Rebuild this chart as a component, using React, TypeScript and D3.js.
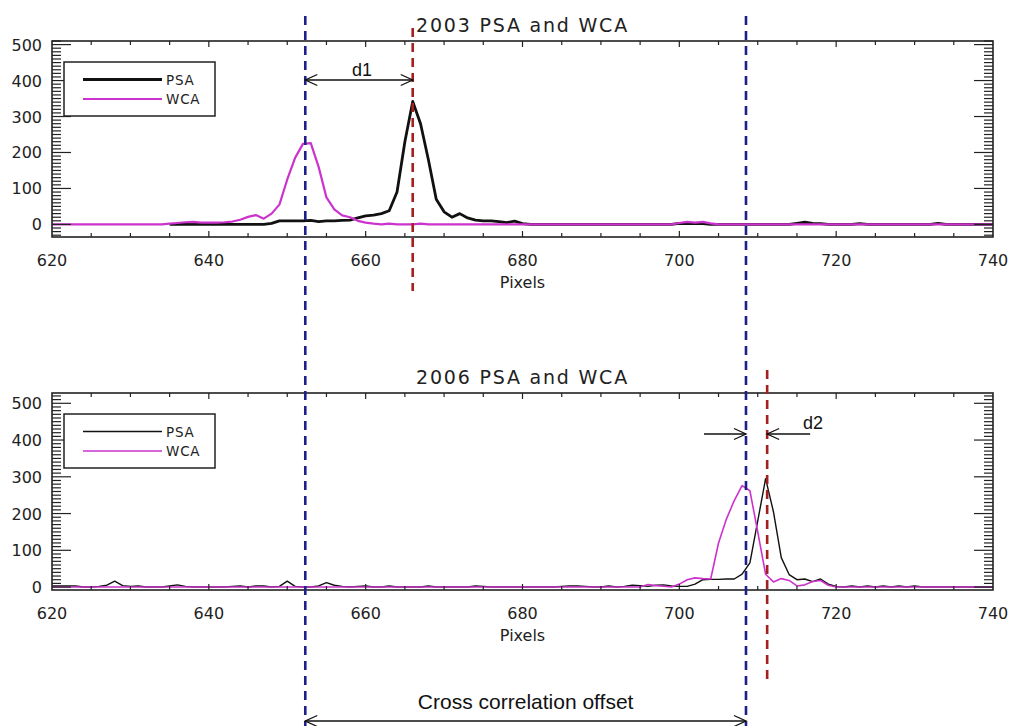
import React from "react";
import * as d3 from "d3";

// ---------- data ----------
const xTickLabels = [620, 640, 660, 680, 700, 720, 740];
const yTickLabels = [0, 100, 200, 300, 400, 500];

// 2003 panel
const psa2003Pixels = d3.range(635, 741);
const psa2003Counts = [
  0, 0, 0, 0, 0, 0, 0, 0, 0, 0, 0, 0, 0, // 635-647
  3, 10, 10, 10, 10, 11, 8, 10, 10, 11, 12, 18, 24, 26, 30, 38, 90, 230, 342, 280, 180, 70, 35, 20, 30, 18, 12, 10, 10, 8, 5, 9, 2, // 648-680
  0, 0, 0, 0, 0, 0, 0, 0, 0, 0, 0, 0, 0, 0, 0, 0, 0, 0, 0, // 681-699
  3, 2, 3, 2, 0, 0, 0, 0, 0, 0, 0, 0, 0, 0, 0, // 700-714
  3, 6, 3, 2, 0, 0, 0, 0, 2, 0, 0, 0, 0, 0, 0, 0, 0, 0, 3, 0, 0, 0, 0, 0, 0, 0, // 715-740
];
const wca2003Pixels = d3.range(620, 741);
const wca2003Counts = [
  0, 0, 0, 0, 0, 0, 0, 0, 0, 0, 0, 0, 0, 0, 0, // 620-634
  2, 4, 6, 7, 5, 5, 5, 6, 8, 13, 21, 26, 16, 30, 55, 125, 185, 224, 226, 160, 75, 42, 25, 20, 10, 5, 2, 0, 2, 0, 0, 0, 2, 0, // 635-668
  0, 0, 0, 0, 0, 0, 0, 0, 0, 0, 0, 0, 0, 0, 0, 0, 0, 0, 0, 0, 0, 0, 0, 0, 0, 0, 0, 0, 0, 0, 0, // 669-699
  4, 7, 5, 7, 3, // 700-704
  0, 0, 0, 0, 0, 0, 0, 0, 0, 0, 0, 0, 0, 0, 0, 0, 0, 0, 0, 0, 0, 0, 0, 0, 0, 0, 0, 0, 0, 0, 0, 0, 0, 0, 0, 0, // 705-740
];

// 2006 panel
const psa2006Pixels = d3.range(620, 741);
const psa2006Counts = [
  3, 3, 3, 3, 0, 0, 2, 5, 16, 4, 2, 3, 0, 0, 0, 3, 6, 2, 0, 0, // 620-639
  0, 0, 0, 2, 3, 0, 3, 3, 0, 2, 16, 2, 0, 0, 3, 12, 5, 2, 0, 2, // 640-659
  3, 0, 0, 3, 0, 0, 0, 0, 3, 0, 0, 0, 0, 0, 3, 2, 0, 0, 0, 0, // 660-679
  0, 0, 0, 0, 0, 2, 3, 3, 2, 0, 0, 3, 0, 2, 5, 4, 2, 5, 6, 3, // 680-699
  2, 2, 8, 20, 21, 21, 22, 22, 35, 66, 180, 295, 205, 80, 34, 20, 22, 15, 22, 8, // 700-719
  2, 0, 3, 0, 3, 0, 3, 0, 3, 0, 3, 0, 0, 0, 0, 0, 0, 0, 0, 0, 0, // 720-740
];
const wca2006Pixels = d3.range(620, 741);
const wca2006Counts = [
  0, 0, 0, 0, 0, 0, 0, 0, 0, 0, 0, 0, 0, 0, 0, 0, 0, 0, 0, 0, // 620-639
  0, 0, 0, 0, 0, 0, 0, 0, 0, 0, 0, 0, 0, 0, 0, 0, 0, 0, 0, 0, // 640-659
  0, 0, 0, 0, 0, 0, 0, 0, 0, 0, 0, 0, 0, 0, 0, 0, 0, 0, 0, 0, // 660-679
  0, 0, 0, 0, 0, 0, 0, 0, 0, 0, 0, 0, 0, 0, 0, 0, 7, 4, 2, 0, // 680-699
  8, 20, 25, 23, 22, 120, 185, 235, 276, 262, 150, 35, 14, 23, 18, 3, 6, 15, 18, 5, // 700-719
  0, 0, 0, 0, 0, 0, 0, 0, 0, 0, 0, 0, 0, 0, 0, 0, 0, 0, 0, 0, 0, // 720-740
];

// annotation positions (in pixel units of the x axis)
const blueLines = [652.3, 708.5];
const redTop = 666.0;
const redBottom = 711.2;

const seriesNames = ["PSA", "WCA"];

// ---------- layout ----------
const W = 1011;
const H = 726;
const LEFT = 52;
const RIGHT = 993;
const BLACK = "#111";
const MAGENTA = "#cc33cc";
const BLUE = "#1f1f8a";
const RED = "#a32020";
const TICK_FONT = "'DejaVu Sans', sans-serif";
const ANNO_FONT = "'Liberation Sans', Arial, sans-serif";

const x = d3.scaleLinear().domain([620, 740]).range([LEFT, RIGHT]);

type PanelProps = {
  top: number;
  bottom: number;
  yDomain: [number, number];
  title: string;
  psaX: number[];
  psaY: number[];
  wcaX: number[];
  wcaY: number[];
  psaWidth: number;
  wcaWidth: number;
};

function Panel(p: PanelProps) {
  const y = d3.scaleLinear().domain(p.yDomain).range([p.bottom, p.top]);
  const line = d3
    .line<[number, number]>()
    .x((d) => x(d[0]))
    .y((d) => y(d[1]));
  const psa = p.psaX.map((v, i) => [v, p.psaY[i]] as [number, number]);
  const wca = p.wcaX.map((v, i) => [v, p.wcaY[i]] as [number, number]);
  const minorY = d3.range(Math.ceil(p.yDomain[0] / 10) * 10, p.yDomain[1] + 0.1, 10);
  const minorX = d3.range(625, 740, 5);
  const cx = (LEFT + RIGHT) / 2;
  return (
    <g>
      <defs>
        <clipPath id={"clip" + p.top}>
          <rect x={LEFT} y={p.top} width={RIGHT - LEFT} height={p.bottom - p.top} />
        </clipPath>
      </defs>
      <text x={cx} y={p.top - 9} textAnchor="middle" fontFamily={TICK_FONT} fontSize={19} letterSpacing={1.8} fill="#222">
        {p.title}
      </text>
      {/* data */}
      <g clipPath={`url(#clip${p.top})`}>
        <path d={line(psa) || ""} fill="none" stroke={BLACK} strokeWidth={p.psaWidth} strokeLinejoin="round" />
        <path d={line(wca) || ""} fill="none" stroke={MAGENTA} strokeWidth={p.wcaWidth} strokeLinejoin="round" />
      </g>
      {/* frame */}
      <rect x={LEFT} y={p.top} width={RIGHT - LEFT} height={p.bottom - p.top} fill="none" stroke="#222" strokeWidth={1.6} />
      {/* y ticks */}
      {minorY.map((v) => {
        const major = v % 100 === 0 && v >= 0;
        const len = major ? 19 : 9;
        return (
          <g key={"y" + v}>
            <line x1={LEFT} x2={LEFT + len} y1={y(v)} y2={y(v)} stroke="#222" strokeWidth={1.2} />
            <line x1={RIGHT} x2={RIGHT - len} y1={y(v)} y2={y(v)} stroke="#222" strokeWidth={1.2} />
          </g>
        );
      })}
      {yTickLabels.map((v) => (
        <text key={"yl" + v} x={42} y={y(v) + 6} textAnchor="end" fontFamily={TICK_FONT} fontSize={16} fill="#222">
          {v}
        </text>
      ))}
      {/* x ticks */}
      {minorX.map((v) => {
        const len = v % 20 === 0 ? 6 : 4;
        return (
          <g key={"x" + v}>
            <line x1={x(v)} x2={x(v)} y1={p.bottom} y2={p.bottom - len} stroke="#222" strokeWidth={1.2} />
            <line x1={x(v)} x2={x(v)} y1={p.top} y2={p.top + len} stroke="#222" strokeWidth={1.2} />
          </g>
        );
      })}
      {xTickLabels.map((v) => (
        <text key={"xl" + v} x={x(v)} y={p.bottom + 29} textAnchor="middle" fontFamily={TICK_FONT} fontSize={16} fill="#222">
          {v}
        </text>
      ))}
      <text x={cx} y={p.bottom + 51} textAnchor="middle" fontFamily={TICK_FONT} fontSize={16} fill="#222">
        Pixels
      </text>
      {/* legend */}
      <rect x={64} y={p.top + 21} width={151} height={54} fill="white" stroke="#222" strokeWidth={1.5} />
      <line x1={83} x2={162} y1={p.top + 38.5} y2={p.top + 38.5} stroke={BLACK} strokeWidth={p.psaWidth} />
      <line x1={83} x2={162} y1={p.top + 58} y2={p.top + 58} stroke={MAGENTA} strokeWidth={p.wcaWidth} />
      <text x={166} y={p.top + 43.5} fontFamily={TICK_FONT} fontSize={13.5} letterSpacing={0.8} fill="#222">
        {seriesNames[0]}
      </text>
      <text x={166} y={p.top + 63} fontFamily={TICK_FONT} fontSize={13.5} letterSpacing={0.8} fill="#222">
        {seriesNames[1]}
      </text>
    </g>
  );
}

function headRight(px: number, py: number) {
  return `M${px - 12},${py - 5.5}L${px},${py}L${px - 12},${py + 5.5}`;
}
function headLeft(px: number, py: number) {
  return `M${px + 12},${py - 5.5}L${px},${py}L${px + 12},${py + 5.5}`;
}

export default function App() {
  const b1 = x(blueLines[0]);
  const b2 = x(blueLines[1]);
  const rT = x(redTop);
  const rB = x(redBottom);
  const arrowStyle = { fill: "none", stroke: "#111", strokeWidth: 1.3 };
  return (
    <svg width={W} height={H} style={{ position: "absolute", left: 0, top: 0, background: "white" }}>
      <rect x={0} y={0} width={W} height={H} fill="white" />
      <Panel
        top={41}
        bottom={237}
        yDomain={[-35, 510]}
        title="2003 PSA and WCA"
        psaX={psa2003Pixels}
        psaY={psa2003Counts}
        wcaX={wca2003Pixels}
        wcaY={wca2003Counts}
        psaWidth={2.8}
        wcaWidth={2.2}
      />
      <Panel
        top={393}
        bottom={590}
        yDomain={[-8, 528]}
        title="2006 PSA and WCA"
        psaX={psa2006Pixels}
        psaY={psa2006Counts}
        wcaX={wca2006Pixels}
        wcaY={wca2006Counts}
        psaWidth={1.4}
        wcaWidth={1.6}
      />
      {/* dashed reference lines */}
      <line x1={b1} x2={b1} y1={16} y2={726} stroke={BLUE} strokeWidth={2.6} strokeDasharray="9 6" />
      <line x1={b2} x2={b2} y1={16} y2={726} stroke={BLUE} strokeWidth={2.6} strokeDasharray="9 6" />
      <line x1={rT} x2={rT} y1={28} y2={291} stroke={RED} strokeWidth={2.6} strokeDasharray="9 6" />
      <line x1={rB} x2={rB} y1={370} y2={680} stroke={RED} strokeWidth={2.6} strokeDasharray="9 6" />
      {/* d1 */}
      <line x1={b1} x2={rT} y1={80} y2={80} {...arrowStyle} />
      <path d={headLeft(b1, 80)} {...arrowStyle} />
      <path d={headRight(rT, 80)} {...arrowStyle} />
      <text x={362} y={76} textAnchor="middle" fontFamily={ANNO_FONT} fontSize={18} fill="#111">d1</text>
      {/* d2 */}
      <line x1={b2 - 42} x2={b2} y1={434} y2={434} {...arrowStyle} />
      <path d={headRight(b2, 434)} {...arrowStyle} />
      <line x1={rB} x2={rB + 43} y1={434} y2={434} {...arrowStyle} />
      <path d={headLeft(rB, 434)} {...arrowStyle} />
      <text x={813} y={429} textAnchor="middle" fontFamily={ANNO_FONT} fontSize={18} fill="#111">d2</text>
      {/* cross correlation offset */}
      <line x1={b1} x2={b2} y1={721} y2={721} {...arrowStyle} />
      <path d={headLeft(b1, 721)} {...arrowStyle} />
      <path d={headRight(b2, 721)} {...arrowStyle} />
      <text x={(b1 + b2) / 2} y={709} textAnchor="middle" fontFamily={ANNO_FONT} fontSize={21} fill="#111">
        Cross correlation offset
      </text>
    </svg>
  );
}
